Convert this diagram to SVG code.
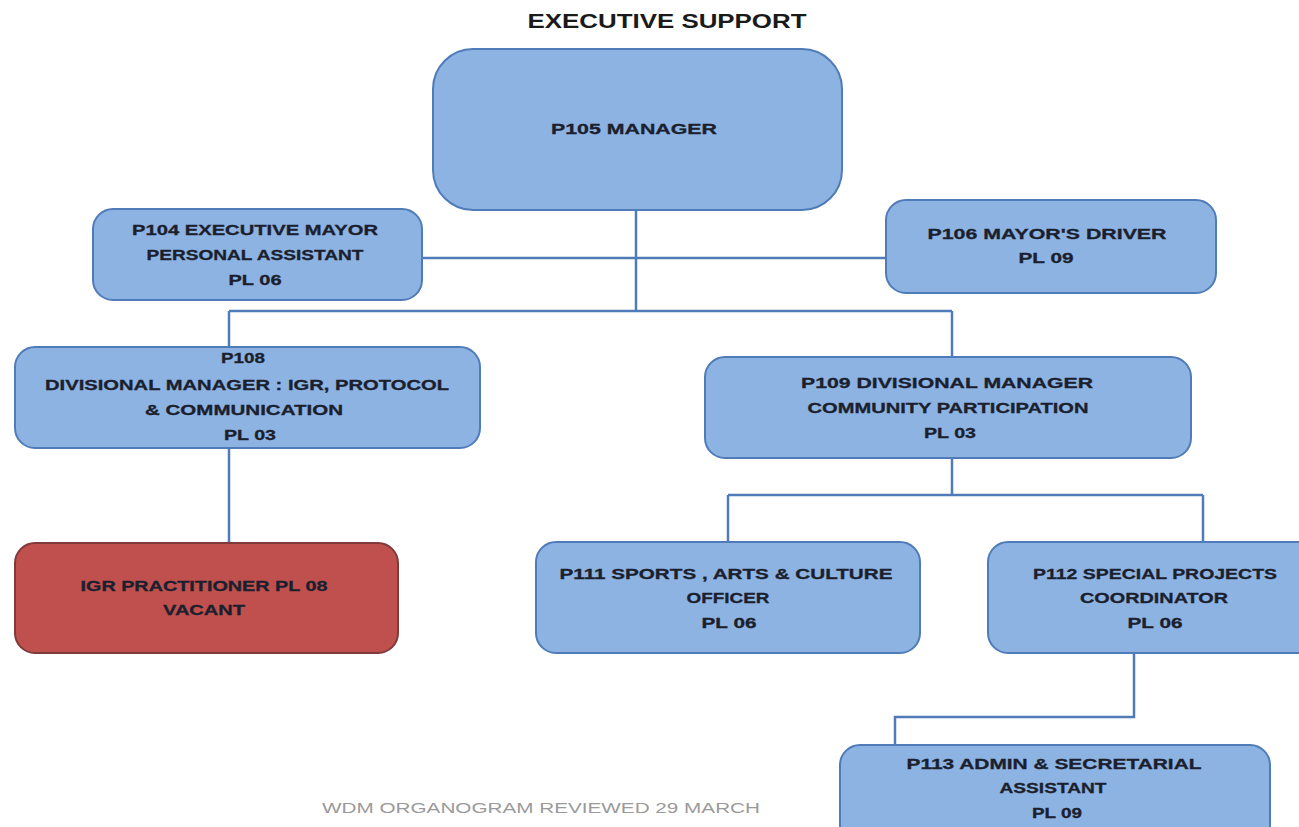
<svg xmlns="http://www.w3.org/2000/svg" width="1299" height="827" viewBox="0 0 1299 827">
  <style>
    .box { fill: #8db3e2; stroke: #4f7cb8; stroke-width: 2; }
    .vacant { fill: #c0504d; stroke: #7f3b3a; stroke-width: 2; }
    .lbl { font-family: "Liberation Sans", Arial, sans-serif; font-weight: bold; font-size: 15px; fill: #1b1f2e; stroke: #1b1f2e; stroke-width: 0.3; text-anchor: middle; dominant-baseline: central; }
    .title { font-family: "Liberation Sans", Arial, sans-serif; font-weight: bold; font-size: 21px; fill: #1a1a1a; text-anchor: middle; dominant-baseline: central; }
    .foot { font-family: "Liberation Sans", Arial, sans-serif; font-size: 14px; fill: #9a9a9a; text-anchor: middle; dominant-baseline: central; }
    .conn { fill: none; stroke: #4f7cb8; stroke-width: 2.5; }
  </style>

  <rect width="1299" height="827" fill="#ffffff"/>

  <text class="title" x="667" y="20" textLength="279" lengthAdjust="spacingAndGlyphs">EXECUTIVE SUPPORT</text>

  <!-- reporting lines -->
  <g id="connectors">
    <path class="conn" d="M636 210 V311"/>
    <path class="conn" d="M422 258 H886"/>
    <path class="conn" d="M229 311 H952"/>
    <path class="conn" d="M229 311 V347"/>
    <path class="conn" d="M952 311 V357"/>
    <path class="conn" d="M229 448 V543"/>
    <path class="conn" d="M952 458 V495"/>
    <path class="conn" d="M728 495 H1203"/>
    <path class="conn" d="M728 495 V542"/>
    <path class="conn" d="M1203 495 V542"/>
    <path class="conn" d="M1134 653 V717 H895 V745"/>
  </g>

  <g id="p105">
    <rect class="box" x="433" y="49" width="409" height="161" rx="40"/>
    <text class="lbl" x="634" y="128" textLength="166" lengthAdjust="spacingAndGlyphs">P105 MANAGER</text>
  </g>

  <g id="p104">
    <rect class="box" x="93" y="209" width="329" height="91" rx="20"/>
    <text class="lbl" x="255" y="229" textLength="246" lengthAdjust="spacingAndGlyphs">P104 EXECUTIVE  MAYOR</text>
    <text class="lbl" x="255" y="254" textLength="217" lengthAdjust="spacingAndGlyphs">PERSONAL ASSISTANT</text>
    <text class="lbl" x="255" y="279" textLength="53" lengthAdjust="spacingAndGlyphs">PL 06</text>
  </g>

  <g id="p106">
    <rect class="box" x="886" y="200" width="330" height="93" rx="20"/>
    <text class="lbl" x="1047" y="233" textLength="239" lengthAdjust="spacingAndGlyphs">P106  MAYOR'S DRIVER</text>
    <text class="lbl" x="1046" y="257" textLength="55" lengthAdjust="spacingAndGlyphs">PL 09</text>
  </g>

  <g id="p108">
    <rect class="box" x="15" y="347" width="465" height="101" rx="20"/>
    <text class="lbl" x="243" y="357" textLength="44" lengthAdjust="spacingAndGlyphs">P108</text>
    <text class="lbl" x="247" y="384" textLength="404" lengthAdjust="spacingAndGlyphs">DIVISIONAL MANAGER : IGR, PROTOCOL</text>
    <text class="lbl" x="244" y="409" textLength="198" lengthAdjust="spacingAndGlyphs">&amp; COMMUNICATION</text>
    <text class="lbl" x="250" y="434" textLength="52" lengthAdjust="spacingAndGlyphs">PL 03</text>
  </g>

  <g id="p109">
    <rect class="box" x="705" y="357" width="486" height="101" rx="20"/>
    <text class="lbl" x="947" y="382" textLength="292" lengthAdjust="spacingAndGlyphs">P109  DIVISIONAL MANAGER</text>
    <text class="lbl" x="948" y="407" textLength="281" lengthAdjust="spacingAndGlyphs">COMMUNITY  PARTICIPATION</text>
    <text class="lbl" x="950" y="432" textLength="52" lengthAdjust="spacingAndGlyphs">PL 03</text>
  </g>

  <g id="igr-practitioner">
    <rect class="vacant" x="15" y="543" width="383" height="110" rx="20"/>
    <text class="lbl" x="204" y="585" textLength="247" lengthAdjust="spacingAndGlyphs">IGR PRACTITIONER PL 08</text>
    <text class="lbl" x="204" y="609" textLength="82" lengthAdjust="spacingAndGlyphs">VACANT</text>
  </g>

  <g id="p111">
    <rect class="box" x="536" y="542" width="384" height="111" rx="20"/>
    <text class="lbl" x="726" y="573" textLength="333" lengthAdjust="spacingAndGlyphs">P111   SPORTS , ARTS &amp; CULTURE</text>
    <text class="lbl" x="728" y="597" textLength="83" lengthAdjust="spacingAndGlyphs">OFFICER</text>
    <text class="lbl" x="729" y="622" textLength="55" lengthAdjust="spacingAndGlyphs">PL 06</text>
  </g>

  <g id="p112">
    <rect class="box" x="988" y="542" width="330" height="111" rx="20"/>
    <text class="lbl" x="1155" y="573" textLength="244" lengthAdjust="spacingAndGlyphs">P112  SPECIAL PROJECTS</text>
    <text class="lbl" x="1154" y="597" textLength="148" lengthAdjust="spacingAndGlyphs">COORDINATOR</text>
    <text class="lbl" x="1155" y="622" textLength="55" lengthAdjust="spacingAndGlyphs">PL 06</text>
  </g>

  <g id="p113">
    <rect class="box" x="840" y="745" width="430" height="100" rx="20"/>
    <text class="lbl" x="1054" y="763" textLength="295" lengthAdjust="spacingAndGlyphs">P113  ADMIN &amp; SECRETARIAL</text>
    <text class="lbl" x="1053" y="787" textLength="107" lengthAdjust="spacingAndGlyphs">ASSISTANT</text>
    <text class="lbl" x="1057" y="812" textLength="50" lengthAdjust="spacingAndGlyphs">PL 09</text>
  </g>

  <text class="foot" x="541" y="808" textLength="438" lengthAdjust="spacingAndGlyphs">WDM ORGANOGRAM REVIEWED 29 MARCH</text>
</svg>
